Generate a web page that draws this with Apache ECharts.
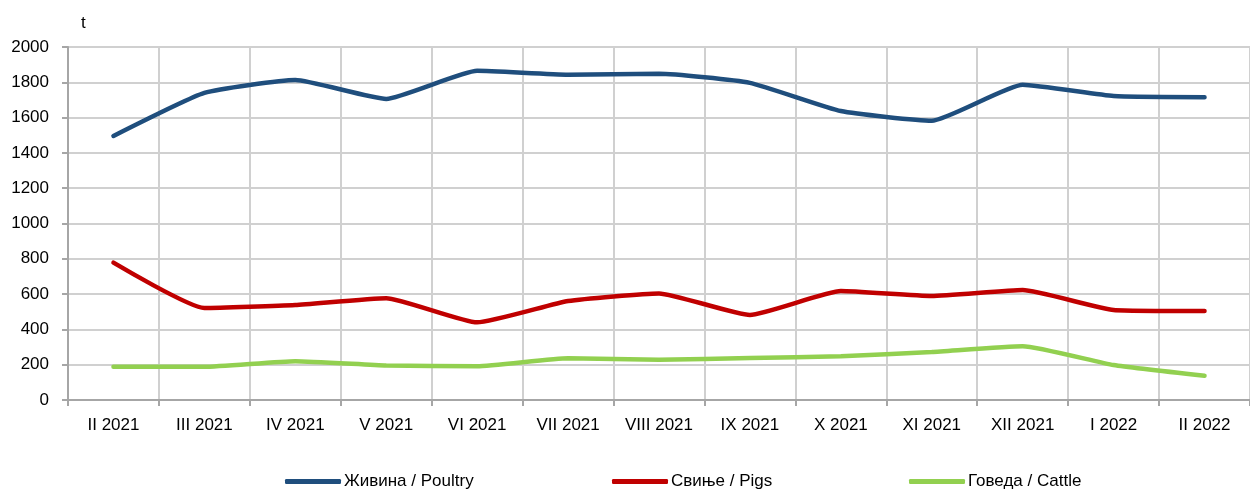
<!DOCTYPE html>
<html>
<head>
<meta charset="utf-8">
<script src="https://cdn.jsdelivr.net/npm/echarts@6/dist/echarts.min.js"></script>
<style>
  html, body { margin: 0; padding: 0; background: #fff; }
  #chart { width: 1250px; height: 493px; }
</style>
</head>
<body>
<div id="chart"></div>
<script>
// months on the x axis
var months = ["II 2021", "III 2021", "IV 2021", "V 2021", "VI 2021", "VII 2021", "VIII 2021",
  "IX 2021", "X 2021", "XI 2021", "XII 2021", "I 2022", "II 2022"];

// tonnes
var poultry = [1496, 1740, 1813, 1706, 1865, 1843, 1848, 1797, 1637, 1582, 1786, 1722, 1716];
var pigs = [778, 521, 538, 577, 440, 561, 604, 482, 617, 589, 623, 510, 504];
var cattle = [188, 188, 220, 196, 191, 237, 228, 238, 248, 272, 305, 198, 137];

var names = ["Живина / Poultry", "Свиње / Pigs", "Говеда / Cattle"];
var colors = ["#1F4E7D", "#C00000", "#92D050"];

var font = "'Liberation Sans', Arial, sans-serif";

var myChart = echarts.init(document.getElementById("chart"));

function line(i, data) {
  return {
    name: names[i],
    type: "line",
    data: data,
    smooth: 0.15,
    symbol: "none",
    lineStyle: { width: 4.5, color: colors[i], cap: "round" },
    itemStyle: { color: colors[i] },
  };
}

// one legend per item so each can sit where the original has it
function legendAt(i, left) {
  return {
    data: [names[i]],
    left: left,
    top: 473,
    padding: 0,
    icon: "roundRect",
    itemWidth: 56,
    itemHeight: 5,
    itemGap: 0,
    textStyle: { fontFamily: font, fontSize: 17, color: "#000", padding: [0, 0, 0, -2] },
  };
}

myChart.setOption({
  animation: false,
  color: colors,
  grid: { left: 68, right: 0, top: 47, bottom: 93 },
  title: {
    text: "t",
    left: 76,
    top: 10,
    textStyle: { fontFamily: font, fontSize: 17, fontWeight: "normal", color: "#000" },
  },
  legend: [legendAt(0, 285), legendAt(1, 612), legendAt(2, 909)],
  xAxis: {
    type: "category",
    data: months,
    boundaryGap: true,
    axisLine: { lineStyle: { color: "#A6A6A6", width: 2 } },
    axisTick: { show: true, length: 6, lineStyle: { color: "#A6A6A6", width: 2 } },
    axisLabel: { fontFamily: font, fontSize: 17, color: "#000", margin: 17, interval: 0 },
    splitLine: { show: true, lineStyle: { color: "#D0D0D0", width: 2 } },
  },
  yAxis: {
    type: "value",
    min: 0,
    max: 2000,
    interval: 200,
    axisLine: { show: true, lineStyle: { color: "#A6A6A6", width: 2 } },
    axisTick: { show: true, length: 6, lineStyle: { color: "#A6A6A6", width: 2 } },
    axisLabel: {
      fontFamily: font, fontSize: 17, color: "#000", margin: 19,
      formatter: function (v) { return String(v); },
    },
    splitLine: { lineStyle: { color: "#D0D0D0", width: 2 } },
  },
  series: [line(0, poultry), line(1, pigs), line(2, cattle)],
});
</script>
</body>
</html>
